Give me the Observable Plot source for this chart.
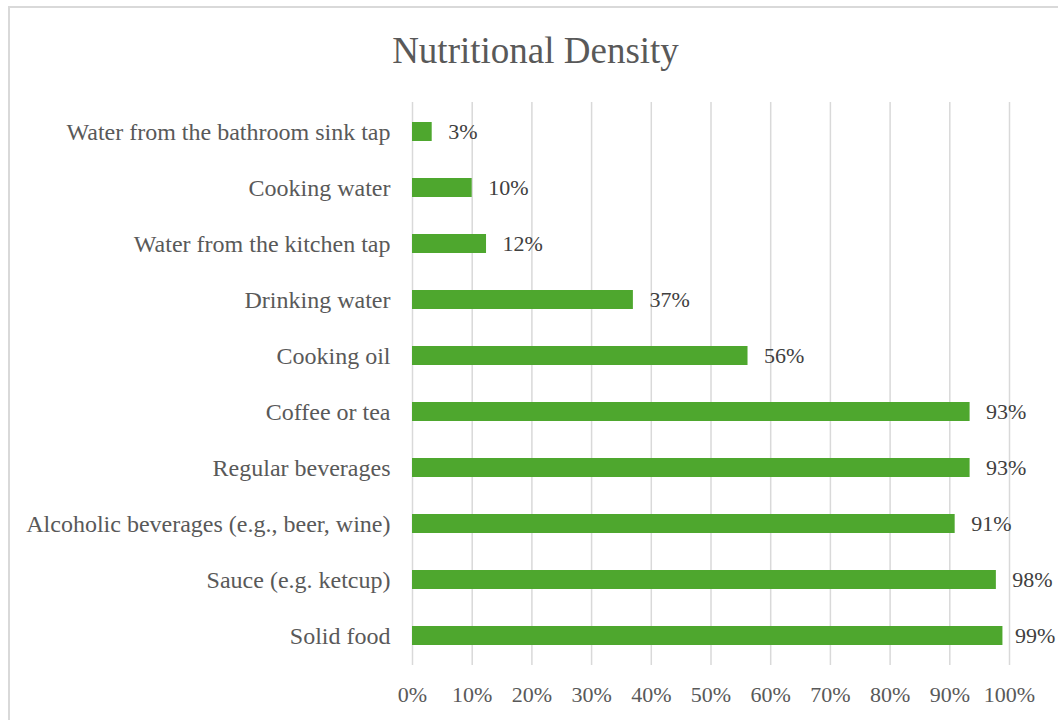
<!DOCTYPE html>
<html>
<head>
<meta charset="utf-8">
<script src="https://cdn.jsdelivr.net/npm/d3@7"></script>
<script src="https://cdn.jsdelivr.net/npm/@observablehq/plot@0.6"></script>
<style>
  html, body { margin: 0; padding: 0; background: #fff; overflow: hidden; width: 1058px; height: 720px; }
  #frame { position: absolute; left: 8px; top: 6px; width: 1060px; height: 730px; border: 2px solid #d9d9d9; box-sizing: border-box; }
  #title { position: absolute; left: 8px; width: 1055px; top: 32px; text-align: center; font-family: "Liberation Serif", serif; font-size: 37px; line-height: 1; color: #595959; }
  #chart { position: absolute; left: 0; top: 0; }
</style>
</head>
<body>
<div id="frame"></div>
<div id="title">Nutritional Density</div>
<div id="chart"></div>
<script>
const categories = [
  "Water from the bathroom sink tap",
  "Cooking water",
  "Water from the kitchen tap",
  "Drinking water",
  "Cooking oil",
  "Coffee or tea",
  "Regular beverages",
  "Alcoholic beverages (e.g., beer, wine)",
  "Sauce (e.g. ketcup)",
  "Solid food"
];
const values = [3.3, 10, 12.4, 37, 56.2, 93.4, 93.4, 90.9, 97.8, 98.9];
const xTicks = [0, 10, 20, 30, 40, 50, 60, 70, 80, 90, 100];

const data = categories.map((c, i) => ({category: c, value: values[i]}));
const labelStyle = {x: "value", y: "category", text: d => Math.round(d.value) + "%", textAnchor: "start", fontSize: 22, fill: "#404040"};

const chart = Plot.plot({
  width: 1058,
  height: 720,
  marginLeft: 412,
  marginRight: 49,
  marginTop: 102,
  marginBottom: 55,
  style: {fontFamily: "'Liberation Serif', serif", background: "transparent", color: "#595959", overflow: "visible"},
  x: {domain: [0, 100]},
  y: {domain: categories, paddingInner: 0.655, paddingOuter: 0.3275},
  marks: [
    Plot.gridX(xTicks, {stroke: "#d9d9d9", strokeOpacity: 1, strokeWidth: 1.5}),
    Plot.barX(data, {x: "value", y: "category", fill: "#4ea72e"}),
    Plot.text(data, {...labelStyle, filter: d => d.value < 98.5, dx: 16}),
    Plot.text(data, {...labelStyle, filter: d => d.value >= 98.5, dx: 12}),
    Plot.axisY({tickSize: 0, tickPadding: 22, fontSize: 24, label: null, fill: "#595959"}),
    Plot.axisX({ticks: xTicks, tickFormat: d => d + "%", tickSize: 0, tickPadding: 21, fontSize: 22, label: null, fill: "#595959"})
  ]
});
document.getElementById("chart").appendChild(chart);
</script>
</body>
</html>
